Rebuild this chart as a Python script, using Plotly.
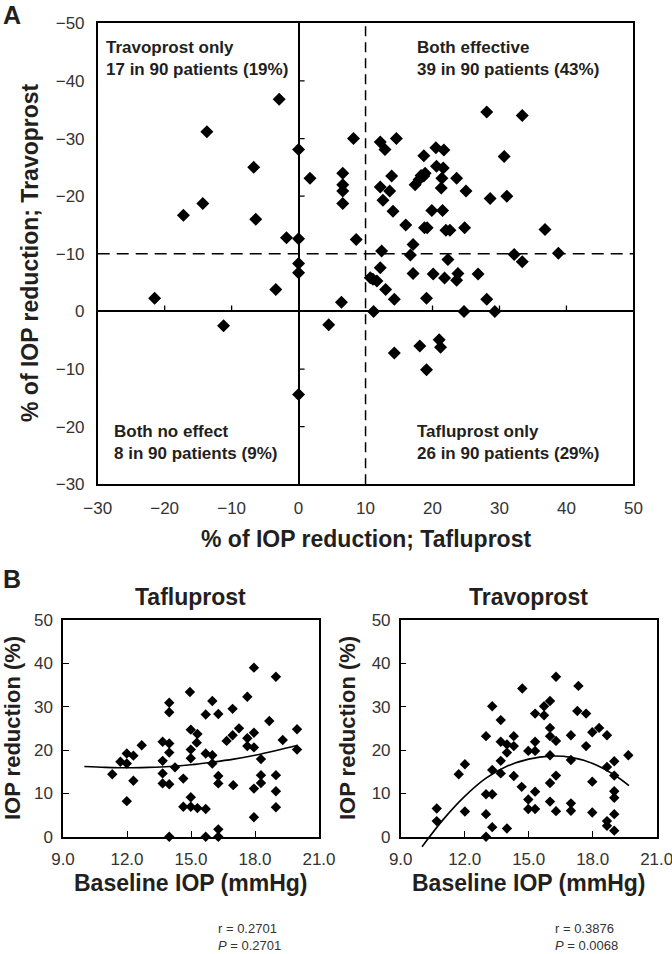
import plotly.graph_objects as go

# ---------------- Panel A data (percent IOP reduction) ----------------
taf_reduction = [-21.5, -17.2, -14.3, -13.7, -6.7, -6.4, -2.9, -1.8, -3.4, 0.0,
                 0.0, 0.0, 0.0, 1.7, 6.6, 6.6, 6.6, 6.6, 6.4, 8.2,
                 8.6, 4.5, -11.2, 12.2, 12.9, 14.6, 12.2, 12.6, 13.9, 13.6,
                 14.1, 16.0, 17.1, 16.7, 12.4, 12.2, 10.7, 11.7, 13.0, 14.3,
                 11.2, 17.1, 17.4, 18.0, 18.7, 18.7, 18.9, 18.8, 19.2, 19.1,
                 20.1, 19.9, 20.5, 20.6, 21.7, 21.6, 21.4, 21.3, 21.5, 22.0,
                 22.6, 22.3, 21.8, 23.6, 25.0, 24.8, 23.8, 23.6, 26.8, 24.7,
                 28.1, 28.1, 28.6, 29.3, 30.7, 31.1, 32.2, 33.4, 33.4, 36.8,
                 38.8, 14.3, 18.1, 19.1, 21.0, 21.2, 0.0, 18.3, 11.1]
trav_reduction = [2.3, 16.7, 18.75, 31.2, 25.0, 16.0, 36.8, 12.8, 3.8, 28.1,
                  12.6, 8.3, 6.7, 23.1, 24.0, 22.0, 20.9, 18.75, 1.6, 30.0,
                  12.5, -2.3, -2.5, 29.4, 28.1, 30.0, 21.6, 19.3, 23.5, 20.9,
                  17.4, 15.0, 11.6, 9.8, 10.5, 7.6, 5.85, 5.3, 3.8, 2.1,
                  0.0, 6.6, 22.0, 22.9, 27.0, 23.5, 24.0, 14.5, 14.5, 2.3,
                  6.5, 17.5, 28.4, 25.2, 28.0, 24.9, 23.1, 21.4, 17.5, 14.1,
                  14.1, 9.0, 5.8, 23.1, 20.9, 14.5, 6.6, 5.4, 6.5, 0.0,
                  34.6, 2.1, 19.6, 0.0, 26.9, 20.0, 9.9, 8.6, 34.0, 14.2,
                  10.1, -7.2, -6.0, -10.1, -4.9, -6.2, -14.4, 23.6, 5.6]

A_x_ticks = [-30, -20, -10, 0, 10, 20, 30, 40, 50]
A_x_ticktext = ["\u221230", "\u221220", "\u221210", "0", "10", "20", "30", "40", "50"]
A_y_ticks = [-30, -20, -10, 0, 10, 20, 30, 40, 50]
A_y_ticktext = ["\u221230", "\u221220", "\u221210", "0", "\u221210", "\u221220", "\u221230", "\u221240", "\u221250"]
A_inner_xticks = [-20, -10, 20, 30, 40]
A_inner_yticks = [-20, -10, 20, 30, 40]
threshold = 10

quadrant_labels = [
    ("Travoprost only", "17 in 90 patients (19%)"),
    ("Both effective", "39 in 90 patients (43%)"),
    ("Both no effect", "8 in 90 patients (9%)"),
    ("Tafluprost only", "26 in 90 patients (29%)"),
]

# ---------------- Panel B data ----------------
taf_baseline = [11.31, 11.69, 11.99, 11.99, 12.3, 11.99, 12.3, 12.69, 13.67, 13.98,
                13.67, 13.98, 13.67, 13.67, 13.98, 13.98, 13.98, 14.25, 14.64, 14.64,
                14.99, 15.3, 15.69, 14.99, 14.95, 14.99, 15.3, 15.27, 14.99, 14.99,
                15.69, 15.69, 16.0, 16.0, 16.0, 16.28, 16.28, 16.28, 16.67, 16.95,
                16.95, 16.98, 17.25, 17.64, 17.64, 17.64, 17.95, 17.95, 17.95, 17.95,
                17.95, 18.28, 18.28, 18.28, 18.67, 18.98, 18.98, 18.98, 18.98, 19.3,
                19.97, 19.97, 13.98, 15.69, 16.28, 16.28]
taf_pct = [14.4, 17.3, 19.2, 16.9, 18.7, 8.2, 12.9, 21.1, 21.9, 21.5,
           17.5, 19.4, 14.6, 12.3, 12.1, 30.9, 28.7, 16.0, 13.4, 6.9,
           6.9, 6.6, 6.4, 9.1, 33.4, 24.7, 23.7, 21.7, 20.1, 18.1,
           28.2, 19.2, 31.3, 18.8, 16.9, 28.3, 14.0, 12.3, 22.1, 29.5,
           23.4, 11.9, 25.0, 32.3, 22.7, 20.9, 39.0, 24.0, 20.6, 11.1,
           4.5, 17.9, 14.2, 12.4, 26.7, 36.9, 14.2, 10.5, 6.8, 22.3,
           24.8, 20.1, 0.0, 0.0, 0.0, 1.7]
taf_curve_x = [10, 11, 12, 13, 14, 15, 16, 17, 18, 19, 20]
taf_curve_y = [16.2, 16.0, 15.9, 16.0, 16.2, 16.6, 17.2, 17.9, 18.8, 19.9, 21.1]

trav_baseline = [10.69, 10.69, 11.72, 12.01, 12.01, 13.0, 13.0, 13.0, 13.29, 13.29,
                 13.29, 13.29, 13.69, 13.69, 13.69, 13.69, 13.98, 13.98, 13.98, 14.3,
                 14.3, 14.3, 14.7, 14.67, 14.98, 14.98, 14.98, 15.3, 15.3, 15.3,
                 15.3, 15.3, 15.72, 15.72, 16.0, 16.0, 16.0, 16.0, 16.0, 16.0,
                 16.28, 16.28, 16.28, 16.28, 16.98, 16.98, 16.98, 16.98, 17.33, 17.28,
                 17.69, 17.69, 17.98, 17.98, 17.98, 18.3, 18.67, 18.67, 18.67, 18.67,
                 19.01, 19.01, 19.01, 19.01, 19.01, 19.01, 19.67, 13.0]
trav_pct = [6.5, 3.6, 14.4, 16.7, 5.8, 23.2, 9.8, 5.2, 30.1, 15.4,
            9.8, 2.2, 26.9, 21.9, 17.5, 14.6, 21.3, 19.4, 1.9, 23.2,
            20.9, 14.0, 34.2, 11.5, 19.8, 8.6, 6.4, 28.4, 21.9, 19.8,
            10.4, 6.4, 30.1, 28.0, 31.3, 25.1, 23.2, 18.8, 12.4, 8.1,
            36.9, 22.1, 14.1, 5.9, 23.4, 17.7, 7.7, 6.0, 34.8, 29.0,
            28.4, 20.9, 24.1, 12.7, 5.6, 25.1, 23.4, 16.1, 3.6, 2.5,
            17.4, 14.1, 10.5, 9.0, 5.2, 1.4, 18.8, 0.0]
trav_curve_x = [10, 11, 12, 13, 14, 15, 16, 17, 18, 19, 19.7]
trav_curve_y = [-2.3, 4.0, 9.3, 13.5, 16.3, 17.9, 18.6, 18.3, 16.9, 14.3, 11.8]

B_x_ticks = [9, 12, 15, 18, 21]
B_y_ticks = [0, 10, 20, 30, 40, 50]
stats = [("0.2701", "0.2701"), ("0.3876", "0.0068")]

# ---------------- layout helpers ----------------
W, H = 672, 954
def fx(px):
    return px / W
def fy(py):
    return 1 - py / H

FONT = "Liberation Sans, Arial, Helvetica, sans-serif"
INK = "#231f20"
TICKC = "#333333"

A_dx = [fx(97.7), fx(633.4)]
A_dy = [fy(484.3), fy(23.3)]
BL_dx = [fx(63), fx(319)]
BR_dx = [fx(400.7), fx(656.7)]
B_dy = [fy(836.7), fy(620)]
unit_B = (B_dy[1] - B_dy[0]) / 50.0

fig = go.Figure()

fig.add_trace(go.Scatter(x=taf_reduction, y=trav_reduction, mode="markers",
                         marker=dict(symbol="diamond", size=10, color="black"),
                         xaxis="x", yaxis="y", showlegend=False))
fig.add_trace(go.Scatter(x=taf_baseline, y=taf_pct, mode="markers",
                         marker=dict(symbol="diamond", size=8, color="black"),
                         xaxis="x2", yaxis="y2", showlegend=False, cliponaxis=False))
fig.add_trace(go.Scatter(x=taf_curve_x, y=taf_curve_y, mode="lines",
                         line=dict(color="black", width=1.6, shape="spline"),
                         xaxis="x2", yaxis="y2", showlegend=False))
fig.add_trace(go.Scatter(x=trav_baseline, y=trav_pct, mode="markers",
                         marker=dict(symbol="diamond", size=8, color="black"),
                         xaxis="x3", yaxis="y3", showlegend=False, cliponaxis=False))
fig.add_trace(go.Scatter(x=trav_curve_x, y=trav_curve_y, mode="lines",
                         line=dict(color="black", width=1.6, shape="spline"),
                         xaxis="x4", yaxis="y4", showlegend=False))

tickfontA = dict(family=FONT, size=17, color=TICKC)
tickfontB = dict(family=FONT, size=17, color=TICKC)

layout = dict(
    width=W, height=H, margin=dict(l=0, r=0, t=0, b=0, autoexpand=False),
    paper_bgcolor="white", plot_bgcolor="rgba(0,0,0,0)", showlegend=False,
    xaxis=dict(domain=A_dx, anchor="y", range=[-30, 50], tickvals=A_x_ticks,
               ticktext=A_x_ticktext, ticks="", showgrid=False, zeroline=True,
               zerolinecolor="black", zerolinewidth=1.5, showline=True, mirror=True,
               linecolor="black", linewidth=1.5, tickfont=tickfontA, automargin=False,
               ticklabelstandoff=8, fixedrange=True, ticklabeloverflow="allow"),
    yaxis=dict(domain=A_dy, anchor="x", range=[-30, 50], tickvals=A_y_ticks,
               ticktext=A_y_ticktext, ticks="", showgrid=False, zeroline=True,
               zerolinecolor="black", zerolinewidth=1.5, showline=True, mirror=True,
               linecolor="black", linewidth=1.5, tickfont=tickfontA, automargin=False,
               ticklabelstandoff=8, fixedrange=True, ticklabeloverflow="allow"),
)
for ax, ay, dx in (("xaxis2", "yaxis2", BL_dx), ("xaxis3", "yaxis3", BR_dx)):
    n = ax[-1]
    layout[ax] = dict(domain=dx, anchor="y" + n, range=[9, 21], tickvals=B_x_ticks,
                      tickformat=".1f", ticks="inside", ticklen=6, tickwidth=1.3,
                      tickcolor="black", showgrid=False, zeroline=False, showline=True,
                      mirror=True, linecolor="black", linewidth=1.5, tickfont=tickfontB,
                      ticklabelstandoff=6, fixedrange=True, automargin=False,
                      ticklabeloverflow="allow")
    layout[ay] = dict(domain=B_dy, anchor="x" + n, range=[0, 50], tickvals=B_y_ticks,
                      ticks="inside", ticklen=6, tickwidth=1.3, tickcolor="black",
                      showgrid=False, zeroline=False, showline=True, mirror=True,
                      linecolor="black", linewidth=1.5, tickfont=tickfontB,
                      ticklabelstandoff=5, fixedrange=True, automargin=False,
                      ticklabeloverflow="allow")
# invisible subplot so the Travoprost trend line may dip slightly below the frame
layout["xaxis4"] = dict(domain=BR_dx, anchor="y4", range=[9, 21], visible=False,
                        fixedrange=True, automargin=False)
layout["yaxis4"] = dict(domain=[B_dy[0] - 5 * unit_B, B_dy[1]], anchor="x4",
                        range=[-5, 50], visible=False, fixedrange=True, automargin=False)
fig.update_layout(**layout)

shapes = []
# dashed threshold lines
shapes.append(dict(type="line", xref="x", yref="y", x0=threshold, x1=threshold, y0=-30, y1=50,
                   line=dict(color="black", width=1.5, dash="10px,6px")))
shapes.append(dict(type="line", xref="x", yref="y", x0=-30, x1=50, y0=threshold, y1=threshold,
                   line=dict(color="black", width=1.5, dash="12px,7px")))
# tick marks on the zero lines
for t in A_inner_xticks:
    shapes.append(dict(type="line", xref="x", yref="y", x0=t, x1=t, ysizemode="pixel",
                       yanchor=0, y0=0, y1=6, line=dict(color="black", width=1.3)))
for t in A_inner_yticks:
    shapes.append(dict(type="line", xref="x", yref="y", y0=t, y1=t, xsizemode="pixel",
                       xanchor=0, x0=0, x1=6, line=dict(color="black", width=1.3)))
fig.update_layout(shapes=shapes)

ann = []
def text(x, y, s, size, bold=True, xanchor="center", angle=0, align="center", color=INK):
    ann.append(dict(xref="paper", yref="paper", x=x, y=y, text=("<b>%s</b>" % s) if bold else s,
                    showarrow=False, xanchor=xanchor, yanchor="middle", textangle=angle,
                    align=align, font=dict(family=FONT, size=size, color=color)))

text(fx(1), fy(14.5), "A", 25, xanchor="left")
pos = [(104, 58.4), (414.5, 58.4), (112, 442.5), (414.5, 442.5)]
for (l1, l2), (px, py) in zip(quadrant_labels, pos):
    text(fx(px), fy(py), l1 + "<br>" + l2, 17, xanchor="left", align="left")
text(fx(366), fy(539), "% of IOP reduction; Tafluprost", 23)
text(fx(30), fy(253), "% of IOP reduction; Travoprost", 23, angle=-90)

text(fx(1), fy(579), "B", 25, xanchor="left")
for name, cx, ytx, (r, p), sx in (("Tafluprost", 190.7, 12, stats[0], 216),
                                  ("Travoprost", 528.7, 347, stats[1], 553)):
    text(fx(cx), fy(597), name, 23)
    text(fx(cx), fy(883), "Baseline IOP (mmHg)", 23)
    text(fx(ytx), fy(728), "IOP reduction (%)", 22, angle=-90)
    text(fx(sx), fy(937), "r = %s<br><i>P</i> = %s" % (r, p), 13, bold=False,
         xanchor="left", align="left", color="#333333")
fig.update_layout(annotations=ann)

fig.write_html("out.html", config={"displayModeBar": False},
               post_script="document.body.style.margin='0px';document.body.style.overflow='hidden';")
